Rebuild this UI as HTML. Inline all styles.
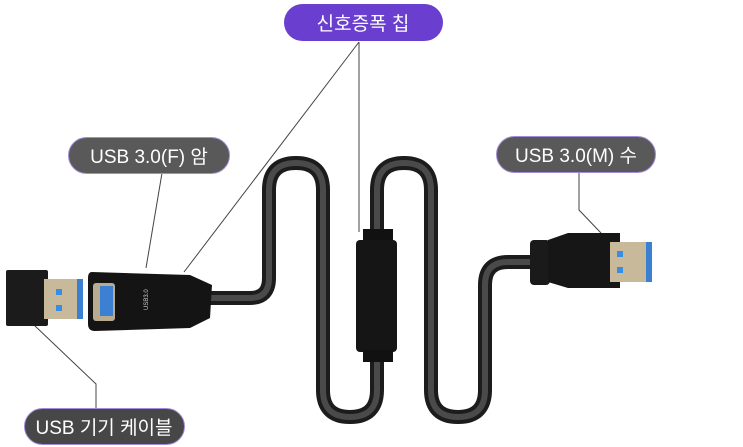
<!DOCTYPE html>
<html><head><meta charset="utf-8"><style>
html,body{margin:0;padding:0;background:#fff;width:743px;height:447px;overflow:hidden}
svg{display:block}
.t{font-family:"Liberation Sans","Noto Sans CJK KR",sans-serif;font-size:19px;fill:#fff;text-anchor:middle}
</style></head><body>
<svg width="743" height="447" viewBox="0 0 743 447">
<!-- leader lines -->
<g stroke="#444" stroke-width="1" fill="none">
<line x1="359" y1="42" x2="359" y2="232"/>
<line x1="359" y1="42" x2="184" y2="272"/>
<line x1="162" y1="173" x2="146" y2="268"/>
<polyline points="579,172 579,210 601,233"/>
<polyline points="96,408 96,384 34,325"/>
</g>
<!-- cable -->
<path d="M210 298 L250 298 Q269 298 269 278 L269 190 Q269 163 296 163 Q323 163 323 190 L323 390 Q323 417 350 417 Q377 417 377 390 L377 355 M377 235 L377 190 Q377 163 404 163 Q431 163 431 190 L431 390 Q431 417 458 417 Q485 417 485 390 L485 285 Q485 262 508 262 L535 262" fill="none" stroke="#1c1c1c" stroke-width="14" stroke-linecap="round"/>
<path d="M210 298 L250 298 Q269 298 269 278 L269 190 Q269 163 296 163 Q323 163 323 190 L323 390 Q323 417 350 417 Q377 417 377 390 L377 355 M377 235 L377 190 Q377 163 404 163 Q431 163 431 190 L431 390 Q431 417 458 417 Q485 417 485 390 L485 285 Q485 262 508 262 L535 262" fill="none" stroke="#4a4a4a" stroke-width="6"/>
<!-- chip -->
<rect x="363" y="229" width="30" height="12" fill="#111"/>
<rect x="356" y="240" width="41" height="112" rx="4" fill="#151515"/>
<rect x="363" y="350" width="30" height="12" fill="#111"/>
<!-- M connector -->
<rect x="530" y="240" width="20" height="45" rx="4" fill="#1a1a1a"/>
<path d="M548 240 L568 233 L620 233 L620 288 L568 288 L548 282 Z" fill="#161616"/>
<rect x="610" y="242" width="42" height="40" fill="#c8b99a"/>
<rect x="646" y="242" width="6" height="40" fill="#3b7fd0"/>
<rect x="617" y="251" width="6" height="6" fill="#3a8ee0"/>
<rect x="617" y="267" width="6" height="6" fill="#3a8ee0"/>
<!-- F connector -->
<path d="M92 272 Q88 272 88 278 L88 324 Q88 331 95 331 L190 328 L210 318 L212 285 L190 275 Z" fill="#141414"/>
<rect x="93" y="283" width="22" height="38" rx="3" fill="#b9ab90"/>
<rect x="100" y="286" width="13" height="30" fill="#3b80d2"/>
<text x="148" y="310" font-family="Liberation Sans,sans-serif" font-size="6" fill="#ccc" transform="rotate(-90 148 310)">USB3.0</text>
<!-- left male -->
<rect x="6" y="270" width="42" height="56" rx="2" fill="#1b1b1b"/>
<rect x="44" y="279" width="38" height="40" fill="#c8b99a"/>
<rect x="77" y="279" width="6" height="40" fill="#3b7fd0"/>
<rect x="56" y="289" width="6" height="6" fill="#3a8ee0"/>
<rect x="56" y="305" width="6" height="6" fill="#3a8ee0"/>
<!-- labels -->
<rect x="284" y="4" width="159" height="37" rx="18.5" fill="#6a3fcf"/>
<text class="t" x="363" y="30">신호증폭 칩</text>
<rect x="496.5" y="136.5" width="159" height="36" rx="18" fill="#595959" stroke="#a58ad8" stroke-width="1"/>
<text class="t" x="576" y="162">USB 3.0(M) 수</text>
<rect x="68.5" y="137.5" width="161" height="36" rx="18" fill="#595959" stroke="#a58ad8" stroke-width="1"/>
<text class="t" x="149" y="163">USB 3.0(F) 암</text>
<rect x="24.5" y="408.5" width="160" height="36" rx="18" fill="#474747" stroke="#a58ad8" stroke-width="1"/>
<text class="t" x="104" y="434">USB 기기 케이블</text>
</svg>
</body></html>
